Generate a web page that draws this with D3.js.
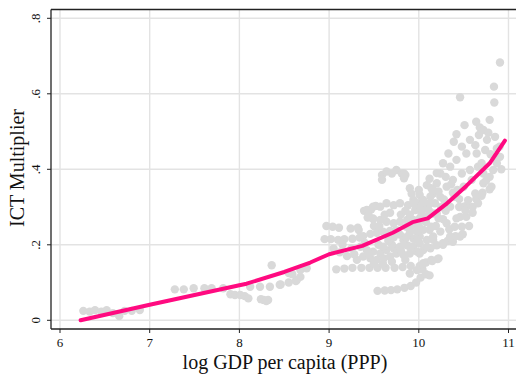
<!DOCTYPE html>
<html>
<head>
<meta charset="utf-8">
<script src="https://cdn.jsdelivr.net/npm/d3@7"></script>
<style>
  body { margin: 0; background: #fff; }
  svg text { font-family: "Liberation Serif", "Times New Roman", serif; fill: #111; }
</style>
</head>
<body>
<div id="chart"></div>
<script>
const width = 516,
  height = 376;

// axis ticks
const xTicks = [6, 7, 8, 9, 10, 11];
const yTicks = [0, 0.2, 0.4, 0.6, 0.8];
const yTickLabels = ['0', '.2', '.4', '.6', '.8'];

// fitted line (log GDP, ICT multiplier)
const fitX = [6.23, 7.0, 8.0, 8.08, 8.5, 8.79, 9.0, 9.37, 9.71, 9.93, 10.1, 10.3, 10.53, 10.79, 10.96];
const fitY = [0.0, 0.041, 0.093, 0.097, 0.128, 0.153, 0.175, 0.197, 0.232, 0.26, 0.27, 0.307, 0.356, 0.416, 0.476];

// scatter points, low income countries
const lowPts = [
  [6.26, 0.025], [6.33, 0.023], [6.39, 0.027], [6.46, 0.023], [6.52, 0.027], [6.59, 0.019], [6.66, 0.011],
  [6.72, 0.025], [6.80, 0.025], [6.89, 0.027],
  [7.28, 0.082], [7.38, 0.082], [7.49, 0.085], [7.61, 0.085], [7.69, 0.085], [7.82, 0.085],
  [7.90, 0.069], [7.95, 0.067], [8.01, 0.067], [8.06, 0.064], [8.10, 0.058],
  [8.12, 0.089], [8.23, 0.089], [8.27, 0.054], [8.32, 0.054], [8.34, 0.089], [8.36, 0.146], [8.45, 0.094],
  [8.55, 0.10], [8.55, 0.125], [8.64, 0.107], [8.68, 0.133], [8.75, 0.138],
  [8.24, 0.056], [8.30, 0.051], [8.46, 0.095], [8.63, 0.104], [8.59, 0.122], [8.68, 0.115]
];

// middle income band
const midPts = [
  [9.54, 0.078], [9.62, 0.079], [9.69, 0.080], [9.76, 0.082], [9.84, 0.086], [9.91, 0.091], [9.97, 0.10],
  [10.02, 0.113], [10.08, 0.122], [10.12, 0.119], [10.04, 0.135], [10.01, 0.144], [10.08, 0.153], [10.15, 0.157], [10.21, 0.162],
  [9.08, 0.135], [9.17, 0.137], [9.26, 0.139], [9.36, 0.139], [9.45, 0.139], [9.54, 0.139], [9.63, 0.139], [9.73, 0.139],
  [9.82, 0.141], [9.91, 0.144],
  [8.95, 0.215], [9.02, 0.215], [9.10, 0.213], [9.17, 0.215], [9.26, 0.216], [9.34, 0.219], [9.38, 0.223], [9.46, 0.229],
  [9.53, 0.232], [9.60, 0.235], [9.68, 0.237], [9.75, 0.239],
  [8.97, 0.25], [9.04, 0.248], [9.11, 0.245], [9.24, 0.243], [9.32, 0.245], [9.33, 0.239],
  [9.59, 0.385], [9.64, 0.394], [9.70, 0.389], [9.75, 0.398], [9.81, 0.389], [9.85, 0.385], [9.59, 0.372],
  [9.39, 0.290], [9.47, 0.294], [9.52, 0.303], [9.43, 0.272], [9.49, 0.268],
  [10.09, 0.358], [10.14, 0.350], [10.16, 0.336], [10.13, 0.328], [10.05, 0.314], [9.98, 0.310], [9.94, 0.319], [10.01, 0.332],
  [10.20, 0.363], [10.22, 0.341], [10.18, 0.310], [10.11, 0.292], [10.03, 0.283], [9.96, 0.292], [9.88, 0.305], [9.79, 0.310],
  [9.72, 0.305], [9.64, 0.310], [9.57, 0.301], [9.49, 0.301], [9.42, 0.292], [9.44, 0.279], [9.49, 0.270], [9.57, 0.266],
  [9.64, 0.261], [9.72, 0.257], [9.79, 0.261], [9.87, 0.266], [9.94, 0.261], [10.01, 0.270], [10.09, 0.275], [10.16, 0.283],
  [9.35, 0.195], [9.42, 0.186], [9.49, 0.182], [9.57, 0.177], [9.64, 0.186], [9.72, 0.191], [9.79, 0.195], [9.87, 0.199],
  [9.94, 0.195], [10.01, 0.204], [10.09, 0.213], [10.16, 0.222], [9.38, 0.169], [9.46, 0.164], [9.53, 0.160], [9.61, 0.164],
  [9.68, 0.169], [9.75, 0.177], [9.83, 0.173], [9.90, 0.177], [9.98, 0.182], [10.05, 0.186], [10.13, 0.191], [10.20, 0.199],
  [9.31, 0.160], [9.64, 0.227], [9.79, 0.227], [9.90, 0.232], [9.98, 0.235], [10.05, 0.240], [9.83, 0.212], [9.94, 0.216], [10.01, 0.222],
  [9.05, 0.19], [9.12, 0.18], [9.20, 0.17], [9.15, 0.20], [9.25, 0.19], [9.28, 0.175], [9.40, 0.205], [9.45, 0.175],
  [9.50, 0.15], [9.60, 0.15], [9.70, 0.155], [9.85, 0.16], [9.55, 0.20], [9.60, 0.195], [9.70, 0.20], [9.80, 0.185],
  [9.50, 0.25], [9.56, 0.25], [9.62, 0.28], [9.68, 0.285], [9.80, 0.28], [9.85, 0.29], [9.90, 0.28],
  [9.66, 0.21], [9.72, 0.22], [9.86, 0.22], [9.92, 0.25], [10.0, 0.25], [10.08, 0.26], [10.12, 0.24], [10.19, 0.25],
  [10.0, 0.345], [9.90, 0.35], [9.92, 0.335], [10.07, 0.30]
];

// high income band
const highPts = [
  [10.27, 0.268], [10.34, 0.241], [10.41, 0.223], [10.49, 0.228], [10.56, 0.250], [10.60, 0.285], [10.53, 0.303],
  [10.45, 0.321], [10.38, 0.338], [10.64, 0.321], [10.71, 0.338], [10.79, 0.347], [10.32, 0.210], [10.27, 0.200],
  [10.905, 0.683], [10.838, 0.619], [10.842, 0.577], [10.46, 0.591], [10.79, 0.531], [10.64, 0.526], [10.51, 0.517],
  [10.68, 0.511], [10.72, 0.504], [10.775, 0.497], [10.67, 0.491], [10.85, 0.486], [10.76, 0.478], [10.42, 0.493],
  [10.39, 0.473], [10.33, 0.442], [10.48, 0.460], [10.57, 0.478], [10.63, 0.464], [10.53, 0.442], [10.645, 0.442],
  [10.74, 0.451], [10.87, 0.455], [10.905, 0.433], [10.87, 0.416], [10.83, 0.398], [10.79, 0.380], [10.81, 0.354],
  [10.72, 0.363], [10.63, 0.336], [10.55, 0.318], [10.50, 0.301], [10.53, 0.274], [10.48, 0.248], [10.46, 0.222],
  [10.38, 0.208], [10.27, 0.204], [10.27, 0.416], [10.24, 0.389], [10.35, 0.407], [10.42, 0.425], [10.48, 0.389],
  [10.57, 0.398], [10.66, 0.407], [10.38, 0.372], [10.31, 0.354], [10.24, 0.327], [10.16, 0.345], [10.12, 0.310],
  [10.05, 0.319], [10.01, 0.301], [9.94, 0.310], [10.20, 0.283], [10.35, 0.301], [10.40, 0.327], [10.50, 0.354],
  [10.59, 0.372], [10.72, 0.389], [10.70, 0.416], [9.835, 0.389], [9.835, 0.376], [10.14, 0.160], [10.22, 0.164],
  [10.05, 0.151], [9.98, 0.133], [9.90, 0.124], [10.46, 0.274], [10.31, 0.257], [10.40, 0.248], [10.35, 0.222],
  [10.24, 0.235], [10.14, 0.248], [10.05, 0.266], [9.94, 0.266], [9.86, 0.248], [9.98, 0.213], [9.90, 0.195],
  [10.09, 0.195], [10.16, 0.213], [10.01, 0.177],
  [10.22, 0.27], [10.25, 0.30], [10.28, 0.32], [10.30, 0.29], [10.12, 0.375], [10.20, 0.39], [10.30, 0.38],
  [10.36, 0.36], [10.43, 0.345], [10.45, 0.30], [10.42, 0.27], [10.52, 0.29], [10.60, 0.30], [10.66, 0.31],
  [10.70, 0.33], [10.75, 0.37], [10.85, 0.43], [10.80, 0.44], [10.90, 0.46], [10.92, 0.40]
];

const plot = { left: 51, top: 9.5, bottom: 329, right: 516 };

const svg = d3.select('#chart').
append('svg').
attr('width', width).
attr('height', height);

const x = d3.scaleLinear().domain([6, 11]).range([60, 508.5]);
const y = d3.scaleLinear().domain([0, 0.8]).range([320.3, 18.3]);

// grid
svg.append('g').
selectAll('line').
data(yTicks).
enter().
append('line').
attr('x1', plot.left).
attr('x2', plot.right).
attr('y1', d => y(d)).
attr('y2', d => y(d)).
attr('stroke', '#e3e3e3').
attr('stroke-width', 1.4);

svg.append('g').
selectAll('line').
data(xTicks).
enter().
append('line').
attr('x1', d => x(d)).
attr('x2', d => x(d)).
attr('y1', plot.top).
attr('y2', plot.bottom).
attr('stroke', '#e3e3e3').
attr('stroke-width', 1.4);

// points
const allPts = lowPts.concat(midPts, highPts);
svg.append('g').
selectAll('circle').
data(allPts).
enter().
append('circle').
attr('cx', d => x(d[0])).
attr('cy', d => y(d[1])).
attr('r', 4.2).
attr('fill', '#d9d9d9');

// fitted line
const line = d3.line().
x(d => x(d[0])).
y(d => y(d[1]));

svg.append('path').
datum(fitX.map((v, i) => [v, fitY[i]])).
attr('d', line).
attr('fill', 'none').
attr('stroke', '#ff0a80').
attr('stroke-width', 4).
attr('stroke-linejoin', 'round').
attr('stroke-linecap', 'round');

// frame: left, bottom and top
const frame = svg.append('g').attr('stroke', '#222').attr('stroke-width', 1.3);
frame.append('line').attr('x1', plot.left).attr('x2', plot.left).attr('y1', plot.top).attr('y2', plot.bottom);
frame.append('line').attr('x1', plot.left).attr('x2', plot.right).attr('y1', plot.bottom).attr('y2', plot.bottom);
frame.append('line').attr('x1', plot.left).attr('x2', plot.right).attr('y1', plot.top).attr('y2', plot.top);

// x axis ticks + labels
const xAxis = svg.append('g');
xAxis.selectAll('line').
data(xTicks).
enter().
append('line').
attr('x1', d => x(d)).
attr('x2', d => x(d)).
attr('y1', plot.bottom).
attr('y2', plot.bottom + 4).
attr('stroke', '#222');
xAxis.selectAll('text').
data(xTicks).
enter().
append('text').
attr('x', d => x(d)).
attr('y', plot.bottom + 18).
attr('text-anchor', 'middle').
style('font-size', '13px').
text(d => d);

// y axis ticks + labels (rotated)
const yAxis = svg.append('g');
yAxis.selectAll('line').
data(yTicks).
enter().
append('line').
attr('x1', plot.left - 4).
attr('x2', plot.left).
attr('y1', d => y(d)).
attr('y2', d => y(d)).
attr('stroke', '#222');
yAxis.selectAll('text').
data(yTicks).
enter().
append('text').
attr('transform', d => `translate(${plot.left - 11},${y(d)}) rotate(-90)`).
attr('text-anchor', 'middle').
style('font-size', '13px').
text((d, i) => yTickLabels[i]);

// titles
svg.append('text').
attr('x', 285).
attr('y', 369).
attr('text-anchor', 'middle').
style('font-size', '20px').
text('log GDP per capita (PPP)');

svg.append('text').
attr('transform', `translate(24,${168}) rotate(-90)`).
attr('text-anchor', 'middle').
style('font-size', '20px').
text('ICT Multiplier');
</script>
</body>
</html>
